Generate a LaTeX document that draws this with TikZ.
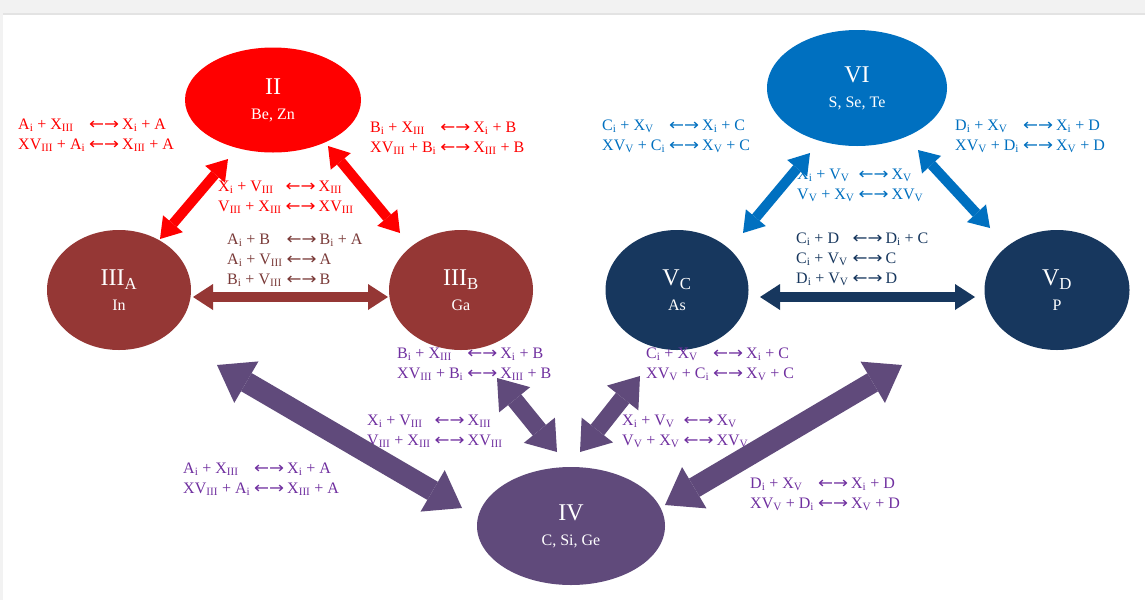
\documentclass[tikz,border=0pt]{standalone}
\usepackage{fontspec}
\setmainfont{Liberation Serif}
\newfontfamily\arrfont{DejaVu Sans}
\usetikzlibrary{arrows.meta,shapes.geometric}
\definecolor{cred}{HTML}{FF0000}
\definecolor{cblue}{HTML}{0070C0}
\definecolor{cbrown}{HTML}{953735}
\definecolor{cbrowntxt}{HTML}{7A3A38}
\definecolor{cnavy}{HTML}{17375E}
\definecolor{cnavytxt}{HTML}{17375E}
\definecolor{cpurp}{HTML}{604A7B}
\definecolor{cpurptxt}{HTML}{7030A0}
\newcommand\sbs[1]{\textsubscript{#1}}
\newcommand\myarr{{\arrfont\scalebox{1.12}[1]{←→}}}
\newcommand\bignum[1]{{\fontsize{24}{26}\selectfont #1}}
\begin{document}
\begin{tikzpicture}[x=1pt,y=-1pt,
  ell/.style={ellipse,inner sep=0pt,text=white,align=center,font=\fontsize{16}{25}\selectfont},
  lab/.style={anchor=base west,inner sep=0pt,font=\fontsize{16}{20}\selectfont},
  arrA/.style={line width=10pt,{Triangle[width=26pt,length=20pt,line width=0pt]}-{Triangle[width=26pt,length=20pt,line width=0pt]}},
  arrB/.style={line width=17pt,{Triangle[width=40pt,length=28pt,line width=0pt]}-{Triangle[width=40pt,length=28pt,line width=0pt]}},
  arrC/.style={line width=21pt,{Triangle[width=48pt,length=34pt,line width=0pt]}-{Triangle[width=48pt,length=34pt,line width=0pt]}}
]
\useasboundingbox (0,0) rectangle (1145,600);
\fill[white] (0,0) rectangle (1145,600);
\fill[gray!10] (0,0) rectangle (1145,13);
\fill[gray!22] (0,13) rectangle (1145,15);
\fill[gray!10] (0,0) rectangle (3,600);

% ellipses
\node[ell,fill=cred,minimum width=176pt,minimum height=105pt] (II) at (273,100)
  {\bignum{II}\\Be, Zn};
\node[ell,fill=cblue,minimum width=180pt,minimum height=116pt] (VI) at (857,88)
  {\bignum{VI}\\S, Se, Te};
\node[ell,fill=cbrown,minimum width=144pt,minimum height=120pt] (IIIA) at (119,290)
  {\bignum{III\textsubscript{A}}\\In};
\node[ell,fill=cbrown,minimum width=144pt,minimum height=120pt] (IIIB) at (461,290)
  {\bignum{III\textsubscript{B}}\\Ga};
\node[ell,fill=cnavy,minimum width=143pt,minimum height=120pt] (VC) at (677,290)
  {\bignum{V\textsubscript{C}}\\As};
\node[ell,fill=cnavy,minimum width=145pt,minimum height=120pt] (VD) at (1057,290)
  {\bignum{V\textsubscript{D}}\\P};
\node[ell,fill=cpurp,minimum width=188pt,minimum height=118pt] (IV) at (571,526)
  {\bignum{IV}\\C, Si, Ge};

% labels
\node[lab,text=cred] (lr1) at (18,129) {\begin{tabular}[t]{@{}l@{\hspace{4pt}}l@{\hspace{3pt}}l@{}}
A\sbs{i} + X\sbs{III} & \myarr & X\sbs{i} + A\\
XV\sbs{III} + A\sbs{i} & \myarr & X\sbs{III} + A\end{tabular}};
\node[lab,text=cred] (lr2) at (370,132) {\begin{tabular}[t]{@{}l@{\hspace{4pt}}l@{\hspace{3pt}}l@{}}
B\sbs{i} + X\sbs{III} & \myarr & X\sbs{i} + B\\
XV\sbs{III} + B\sbs{i} & \myarr & X\sbs{III} + B\end{tabular}};
\node[lab,text=cred] (lr3) at (218,191) {\begin{tabular}[t]{@{}l@{\hspace{4pt}}l@{\hspace{3pt}}l@{}}
X\sbs{i} + V\sbs{III} & \myarr & X\sbs{III}\\
V\sbs{III} + X\sbs{III} & \myarr & XV\sbs{III}\end{tabular}};
\node[lab,text=cbrowntxt] (lb1) at (227,244) {\begin{tabular}[t]{@{}l@{\hspace{4pt}}l@{\hspace{3pt}}l@{}}
A\sbs{i} + B & \myarr & B\sbs{i} + A\\
A\sbs{i} + V\sbs{III} & \myarr & A\\
B\sbs{i} + V\sbs{III} & \myarr & B\end{tabular}};
\node[lab,text=cblue] (lu1) at (602,130) {\begin{tabular}[t]{@{}l@{\hspace{4pt}}l@{\hspace{3pt}}l@{}}
C\sbs{i} + X\sbs{V} & \myarr & X\sbs{i} + C\\
XV\sbs{V} + C\sbs{i} & \myarr & X\sbs{V} + C\end{tabular}};
\node[lab,text=cblue] (lu2) at (955,130) {\begin{tabular}[t]{@{}l@{\hspace{4pt}}l@{\hspace{3pt}}l@{}}
D\sbs{i} + X\sbs{V} & \myarr & X\sbs{i} + D\\
XV\sbs{V} + D\sbs{i} & \myarr & X\sbs{V} + D\end{tabular}};
\node[lab,text=cblue] (lu3) at (797,179) {\begin{tabular}[t]{@{}l@{\hspace{4pt}}l@{\hspace{3pt}}l@{}}
X\sbs{i} + V\sbs{V} & \myarr & X\sbs{V}\\
V\sbs{V} + X\sbs{V} & \myarr & XV\sbs{V}\end{tabular}};
\node[lab,text=cnavytxt] (ln1) at (796,243) {\begin{tabular}[t]{@{}l@{\hspace{4pt}}l@{\hspace{3pt}}l@{}}
C\sbs{i} + D & \myarr & D\sbs{i} + C\\
C\sbs{i} + V\sbs{V} & \myarr & C\\
D\sbs{i} + V\sbs{V} & \myarr & D\end{tabular}};
\node[lab,text=cpurptxt] (lp1) at (397,358) {\begin{tabular}[t]{@{}l@{\hspace{4pt}}l@{\hspace{3pt}}l@{}}
B\sbs{i} + X\sbs{III} & \myarr & X\sbs{i} + B\\
XV\sbs{III} + B\sbs{i} & \myarr & X\sbs{III} + B\end{tabular}};
\node[lab,text=cpurptxt] (lp2) at (646,358) {\begin{tabular}[t]{@{}l@{\hspace{4pt}}l@{\hspace{3pt}}l@{}}
C\sbs{i} + X\sbs{V} & \myarr & X\sbs{i} + C\\
XV\sbs{V} + C\sbs{i} & \myarr & X\sbs{V} + C\end{tabular}};
\node[lab,text=cpurptxt] (lp3) at (367,425) {\begin{tabular}[t]{@{}l@{\hspace{4pt}}l@{\hspace{3pt}}l@{}}
X\sbs{i} + V\sbs{III} & \myarr & X\sbs{III}\\
V\sbs{III} + X\sbs{III} & \myarr & XV\sbs{III}\end{tabular}};
\node[lab,text=cpurptxt] (lp4) at (622,425) {\begin{tabular}[t]{@{}l@{\hspace{4pt}}l@{\hspace{3pt}}l@{}}
X\sbs{i} + V\sbs{V} & \myarr & X\sbs{V}\\
V\sbs{V} + X\sbs{V} & \myarr & XV\sbs{V}\end{tabular}};
\node[lab,text=cpurptxt] (lp5) at (183,473) {\begin{tabular}[t]{@{}l@{\hspace{4pt}}l@{\hspace{3pt}}l@{}}
A\sbs{i} + X\sbs{III} & \myarr & X\sbs{i} + A\\
XV\sbs{III} + A\sbs{i} & \myarr & X\sbs{III} + A\end{tabular}};
\node[lab,text=cpurptxt] (lp6) at (750,488) {\begin{tabular}[t]{@{}l@{\hspace{4pt}}l@{\hspace{3pt}}l@{}}
D\sbs{i} + X\sbs{V} & \myarr & X\sbs{i} + D\\
XV\sbs{V} + D\sbs{i} & \myarr & X\sbs{V} + D\end{tabular}};

% arrow end points
\coordinate (r1a) at (160,239); \coordinate (r1b) at (228,159);
\coordinate (r2a) at (328,146); \coordinate (r2b) at (400,233);
\coordinate (b1a) at (193,297); \coordinate (b1b) at (388,297);
\coordinate (u1a) at (743,233); \coordinate (u1b) at (810,153);
\coordinate (u2a) at (918,150); \coordinate (u2b) at (990,228);
\coordinate (n1a) at (760,297); \coordinate (n1b) at (975,297);
\coordinate (p1a) at (217,365); \coordinate (p1b) at (462,508);
\coordinate (p2a) at (497,378); \coordinate (p2b) at (557,452);
\coordinate (p3a) at (640,376); \coordinate (p3b) at (580,452);
\coordinate (p4a) at (902,365); \coordinate (p4b) at (665,505);

\draw[arrA,cred] (r1a) -- (r1b);
\draw[arrA,cred] (r2a) -- (r2b);
\draw[arrA,cbrown] (b1a) -- (b1b);
\draw[arrA,cblue] (u1a) -- (u1b);
\draw[arrA,cblue] (u2a) -- (u2b);
\draw[arrA,cnavy] (n1a) -- (n1b);
\draw[arrC,cpurp] (p1a) -- (p1b);
\draw[arrB,cpurp] (p2a) -- (p2b);
\draw[arrB,cpurp] (p3a) -- (p3b);
\draw[arrC,cpurp] (p4a) -- (p4b);
\end{tikzpicture}
\end{document}
